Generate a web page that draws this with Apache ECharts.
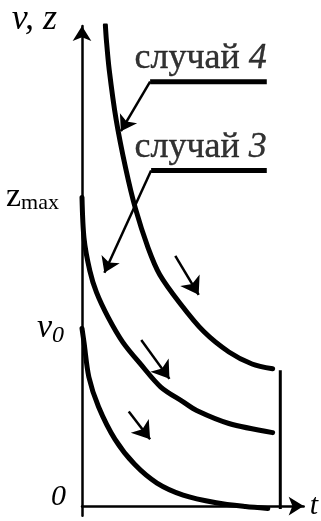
<!DOCTYPE html>
<html>
<head>
<meta charset="utf-8">
<script src="https://cdn.jsdelivr.net/npm/echarts@6/dist/echarts.min.js"></script>
<style>
  html, body { margin: 0; padding: 0; background: #fff; }
  #chart { width: 321px; height: 521px; }
</style>
</head>
<body>
<div id="chart"></div>
<script>
// Curves v(t) / z(t) for the three cases, as [t, value] pairs
const case4Curve = [
  [1.16, 100.2], [1.21, 97.1], [1.35, 90.9], [1.69, 80.6], [2.17, 70.3],
  [2.65, 62.0], [3.28, 53.8], [3.86, 48.2], [4.87, 42.2], [6.03, 36.4],
  [7.29, 32.1], [8.44, 29.6], [9.46, 28.6]
];
const case3Curve = [
  [0, 64.3], [0.10, 55.8], [0.39, 49.0], [0.72, 44.5], [1.30, 39.3],
  [2.03, 34.1], [2.94, 29.4], [3.91, 24.8], [5.02, 21.7], [5.69, 19.9],
  [7.29, 17.2], [9.46, 15.3]
];
const baseCurve = [
  [0, 37.0], [0.10, 34.1], [0.34, 26.9], [0.82, 20.7], [1.64, 13.9],
  [2.61, 8.7], [3.72, 4.8], [5.02, 2.3], [6.66, 0.7], [8.11, -0.1],
  [9.22, -0.5]
];

// End of the time interval
const endLine = [[9.84, 28.3], [9.84, -0.6]];

// Case captions: underline segment and pointer to its curve
const case4Underline = [[3.38, 88.4], [9.17, 88.4]];
const case4Pointer = [[3.38, 88.4], [1.93, 78.1]];
const case3Underline = [[3.43, 69.9], [9.17, 69.9]];
const case3Pointer = [[3.43, 69.9], [1.11, 48.6]];
const caseNames = ['случай', 'случай'];
const caseNumbers = ['4', '3'];

// Arrows showing direction of motion along the curves
const motionArrows = [
  [[4.63, 52.1], [5.79, 44.0]],
  [[2.94, 34.6], [4.34, 26.5]],
  [[2.32, 19.7], [3.38, 13.9]]
];

// Marked levels on the vertical axis
const yTickValues = [0, 37.0, 64.3];
const yTickLabels = ['0', 'v0', 'zmax'];

const SERIF = "'Liberation Serif', 'DejaVu Serif', serif";
const INK = '#000';

const chart = echarts.init(document.getElementById('chart'), null, { renderer: 'canvas' });

function curve(data) {
  return {
    type: 'line', data, smooth: 0.3, symbol: 'none', silent: true,
    lineStyle: { color: INK, width: 5, cap: 'round' }
  };
}
function segment(data, width) {
  return {
    type: 'line', data, symbol: 'none', silent: true,
    lineStyle: { color: INK, width, cap: 'butt' }
  };
}
function arrows(list, size) {
  return {
    type: 'lines', coordinateSystem: 'cartesian2d', silent: true,
    data: list.map(c => ({ coords: c })),
    symbol: ['none', 'arrow'], symbolSize: size,
    lineStyle: { color: INK, width: 2.5, opacity: 1, curveness: 0 }
  };
}
function caption(point, idx) {
  return {
    type: 'scatter', data: [point], symbolSize: 0, silent: true,
    label: {
      show: true, position: [0, 0], align: 'right', verticalAlign: 'bottom',
      offset: [0, -5],
      formatter: '{a|' + caseNames[idx] + ' }{b|' + caseNumbers[idx] + '}',
      rich: {
        a: { fontFamily: SERIF, fontSize: 36, color: INK, textBorderColor: INK, textBorderWidth: 0.4 },
        b: { fontFamily: SERIF, fontSize: 36, fontStyle: 'italic', color: INK, textBorderColor: INK, textBorderWidth: 0.4 }
      }
    }
  };
}

const labelRich = {
  zero: { fontFamily: SERIF, fontSize: 30, fontStyle: 'italic', color: INK, padding: [0, 0, 17, 0] },
  vi: { fontFamily: SERIF, fontSize: 34, fontStyle: 'italic', color: INK },
  vs: { fontFamily: SERIF, fontSize: 24, fontStyle: 'italic', color: INK, padding: [14, 2, 0, 0] },
  zi: { fontFamily: SERIF, fontSize: 34, color: INK },
  zs: { fontFamily: SERIF, fontSize: 22, color: INK, padding: [12, 7, 0, 0] }
};

chart.setOption({
  animation: false,
  backgroundColor: '#fff',
  grid: { left: 82, right: 11, top: 26, bottom: 1, containLabel: false },
  xAxis: {
    type: 'value', min: 0, max: 11,
    axisLine: {
      show: true, onZero: true,
      lineStyle: { color: INK, width: 2.5 },
      symbol: ['none', 'arrow'], symbolSize: [14, 15]
    },
    axisTick: { show: false }, axisLabel: { show: false }, splitLine: { show: false },
    name: 't', nameLocation: 'end', nameGap: 6,
    nameTextStyle: {
      fontFamily: SERIF, fontSize: 30, fontStyle: 'italic', color: INK,
      align: 'left', verticalAlign: 'middle', padding: [0, 0, 34, 0]
    }
  },
  yAxis: {
    type: 'value', min: -2, max: 100,
    axisLine: {
      show: true, onZero: true,
      lineStyle: { color: INK, width: 2.5 },
      symbol: ['none', 'arrow'], symbolSize: [14, 15]
    },
    axisTick: { show: false }, splitLine: { show: false },
    axisLabel: {
      show: true, customValues: yTickValues, margin: 16,
      formatter: function (val) {
        const i = yTickValues.indexOf(val);
        const t = yTickLabels[i];
        if (t === '0') return '{zero|0}';
        if (t === 'v0') return '{vi|v}{vs|0}';
        if (t === 'zmax') return '{zi|z}{zs|max}';
        return '';
      },
      rich: labelRich
    },
    name: 'v, z', nameLocation: 'end', nameGap: 6,
    nameTextStyle: {
      fontFamily: SERIF, fontSize: 36, fontStyle: 'italic', color: INK,
      align: 'right', verticalAlign: 'middle', padding: [0, 25, 0, 0]
    }
  },
  series: [
    curve(case4Curve),
    curve(case3Curve),
    curve(baseCurve),
    segment(endLine, 3),
    segment(case4Underline, 5),
    segment(case3Underline, 5),
    arrows([case4Pointer, case3Pointer], [12, 15]),
    arrows(motionArrows, [13, 17]),
    caption(case4Underline[1], 0),
    caption(case3Underline[1], 1)
  ]
});
</script>
</body>
</html>
